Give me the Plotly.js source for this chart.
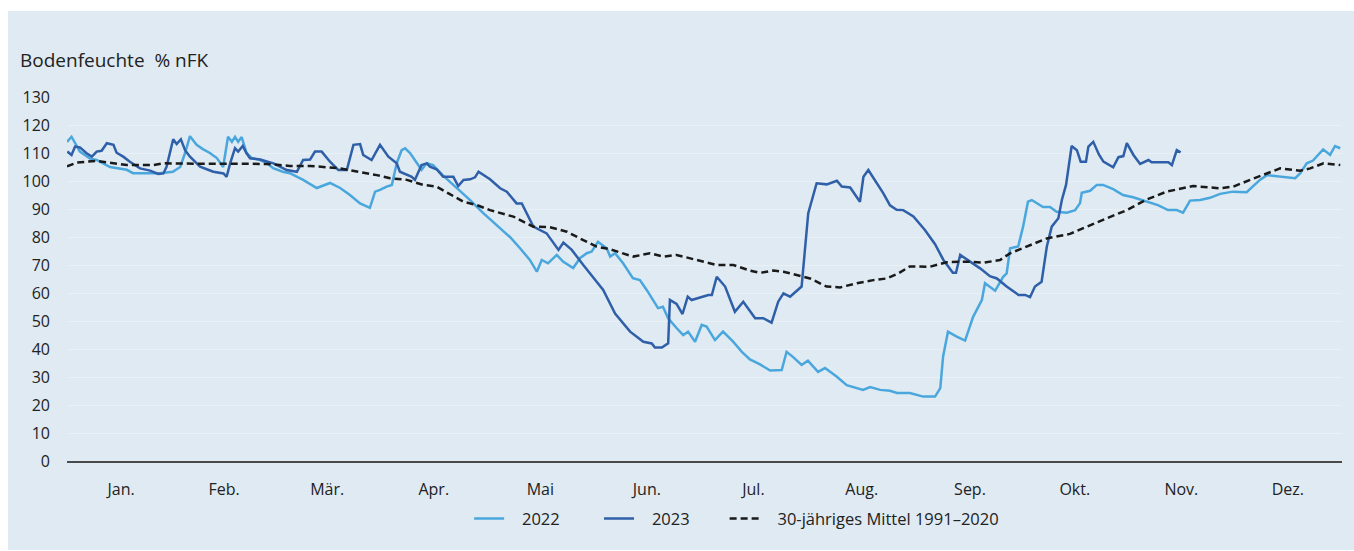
<!DOCTYPE html>
<html>
<head>
<meta charset="utf-8">
<script src="https://cdn.plot.ly/plotly-3.0.1.min.js"></script>
<style>
  html, body { margin: 0; padding: 0; background: #ffffff; }
  #chart { position: absolute; left: 8px; top: 11px; width: 1346px; height: 539px; }
</style>
</head>
<body>
<div id="chart"></div>
<script>
// Month tick labels and their centre day-of-year
const monthLabels = ['Jan.','Feb.','Mär.','Apr.','Mai','Jun.','Jul.','Aug.','Sep.','Okt.','Nov.','Dez.'];
const monthCenters = [15.5,45,74.5,105,135.5,166,196.5,227.5,258.5,288.5,319,349.5];

// 2022 (day of year, % nFK)
const days2022 = [0,1.3,3.7,6.6,8.5,10.3,12.3,17.1,18.9,26.6,30.3,32.4,33.8,35.2,37.1,38.9,40.9,42.9,44.7,46.1,47.2,48.1,49.0,50.0,51.4,52.9,55.3,57.2,59.0,61.8,63.8,67.6,71.5,75.3,78.2,81.0,83.9,86.7,88.2,89.6,91.5,93.0,94.4,95.8,96.8,98.2,100.1,101.5,103.0,104.8,107.6,111.6,115.4,119.1,123.0,126.8,129.7,132.5,134.5,135.9,137.7,140.2,142.0,144.9,146.9,148.8,150.2,152.0,154.5,155.5,156.9,159.2,162.0,164.0,166.0,167.8,169.2,170.6,172.1,174.5,176.4,177.8,179.8,181.7,183.1,185.5,187.8,190.7,193.2,195.5,198.4,201.3,204.6,206.0,207.8,210.3,212.1,215.0,217.0,220.4,223.2,227.9,229.9,232.8,235.6,237.6,241.3,245.1,248.5,250.0,250.8,252.2,254.7,257.1,259.4,261.9,262.8,265.7,268.0,269.0,270.0,272.3,273.7,275.1,276.2,279.4,281.4,283.3,286.2,288.6,290.0,290.5,292.9,294.8,296.6,299.5,302.3,305.2,309.1,312.3,315.2,317.7,319.5,321.5,324.4,327.2,330.1,333.8,337.7,339.5,341.5,343.5,346.3,349.2,351.6,353.0,354.9,356.7,359.6,361.6,363.0,364.5];
const values2022 = [114,115.8,110.5,108,107.5,106.4,105,104,102.8,102.8,103.3,105,110,116,112.9,111.4,110,108.2,105,115.8,114,115.8,114,115.7,110,108.2,107.5,106.4,104.6,103.3,102.8,100.4,97.5,99.3,97.5,95,92,90.4,96.2,96.8,98,98.6,106.4,111,111.7,110,106.4,104,106.4,105.7,102,97.5,93.2,88.6,84.3,80,76,71.8,67.6,71.8,70.6,73.6,71.2,68.9,72.5,74.2,74.8,78.3,76,73,74.2,70.6,65.3,64.6,61,57.5,54.6,55.1,51,47.5,45,46.2,42.6,48.6,48,43.2,46.2,42.6,39,36.3,34.5,32.3,32.5,39,37.2,34.3,35.8,31.8,33.2,30.1,27.1,25.4,26.4,25.4,25.1,24.3,24.3,23,23,26,37.3,46.2,44.4,43,51.5,57.5,63.5,60.8,65.8,67,76,76.6,83.7,92.6,93.2,90.7,90.7,89,88.7,89.6,92.1,95.8,96.5,98.6,98.6,97.1,95,94.2,92.6,91.4,89.6,89.6,88.7,93,93.2,94,95.4,96.2,96,98,100.4,102.1,101.8,101.5,101,102.7,106.3,107.3,111.3,109.3,112.5,111.7];

// 2023 (day of year, % nFK)
const days2023 = [0.1,1.3,2.3,3.7,5.6,7.1,8.5,9.9,11.4,13.3,14.2,16.1,18.0,20.9,23.8,26.1,27.6,28.5,30.4,31.4,32.6,33.8,35.2,38.1,40.0,41.9,44.8,45.7,46.7,48.1,49.0,50.3,51.4,52.4,55.3,59.1,62.9,65.8,67.6,69.6,71.0,72.9,75.3,77.7,80.1,82.0,83.9,84.8,87.2,89.6,92.0,94.4,95.3,98.7,99.6,101.5,103.0,103.9,105.8,107.7,110.6,112.0,113.5,115.4,116.8,117.8,121.1,124.0,125.9,128.7,130.2,133.5,137.3,140.7,142.1,144.5,147.8,153.5,156.9,161.2,165.0,167.4,168.3,170.3,172.1,172.6,174.5,176.2,177.7,178.8,183.6,184.6,186.0,188.4,191.2,193.6,197.0,199.3,201.7,203.6,205.1,207.0,210.3,211.3,212.2,214.6,217.5,220.4,221.8,224.2,227.0,228.0,229.4,233.7,235.6,237.5,239.4,242.3,245.6,248.5,250.9,253.6,254.5,255.7,258.5,261.4,264.2,266.2,269.0,272.4,274.3,275.7,277.1,279.0,280.5,281.9,283.8,284.8,286.0,287.6,289.1,290.2,291.7,292.4,293.8,295.4,296.7,299.5,301.0,302.4,303.4,305.3,307.2,309.6,310.5,315.3,316.3,317.7,318.8];
const values2023 = [110.5,109.3,112.3,112,109.9,108.7,110.5,110.8,113.5,112.9,110.1,108.7,106.9,104.5,103.7,102.5,102.7,105.1,114.9,113.2,114.9,111,108.7,105.1,104.2,103.3,102.7,101.5,106.3,111.7,110.5,112.5,109.9,108.1,107.7,106.3,103.9,103.3,107.5,107.7,110.5,110.5,106.9,103.9,103.9,112.9,113.2,109.3,107.5,112.9,108.7,106.3,103.3,101.5,100.4,105.7,106.3,105.1,104.2,101.5,101.5,98.2,100.4,100.6,101.3,103.3,100.6,97.4,96.2,92,92,83.7,81.3,75.4,78,75.4,70,61.1,52.7,46.2,42.6,42,40.5,40.5,42,57.5,56.1,52.5,58.7,57.5,59.3,59.3,65.8,62.3,53.3,56.9,51,51,49.4,56.9,59.9,58.7,62.3,75.4,88.5,99.2,98.8,100.1,98,97.7,92.6,101.5,103.9,95.6,91.3,89.7,89.6,87.3,82.5,77.4,71.8,67.2,67.2,73.6,71.2,68.8,66,65.2,62.3,59.3,59.3,58.5,62.3,64,76.6,83.7,86.7,93.2,98.6,112.5,111,106.9,106.9,112.3,114,109.5,106.9,104.9,108.5,108.9,113.5,109.3,106.1,107.5,106.7,106.7,105.7,111,110.2];

// 30-jähriges Mittel 1991–2020 (day of year, % nFK)
const daysMean = [0,2.8,8.5,12.3,17.1,24.7,27.6,36.2,45.7,51.4,57.2,63.8,69.6,78.2,83.9,88.7,92.5,97.3,102.0,105.8,109.6,113.5,117.3,121.1,125.9,127.8,130.6,133.5,138.3,143.1,147.8,151.6,155.5,162.1,166.9,170.7,174.5,178.4,186.0,190.8,195.5,198.4,202.2,205.1,209.8,212.7,217.5,221.3,226.1,230.8,234.7,238.0,241.3,247.1,251.8,257.6,262.3,267.1,270.0,274.7,280.5,287.1,291.9,297.7,303.4,309.1,314.8,322.4,330.1,333.9,338.7,343.5,347.3,353.0,355.9,359.7,364.5];
const valuesMean = [105.2,106.6,107.2,106.5,105.7,105.7,106.3,106.2,106.1,106.3,106.1,105.4,105.4,104.5,103.3,102.1,101,100.4,98.6,98,95.3,92.6,91.4,89.6,87.9,87.3,85.5,83.7,83.5,81.9,78.9,76.6,75.6,73,74.2,73,73.6,72.4,70,70,68,67.2,68,67.6,66.1,65.2,62.3,62,63.5,64.6,65.2,67,69.5,69.4,71,71.2,70.8,71.8,74.2,76.6,79.5,81.1,83.7,86.7,89.6,93.4,96.2,98.2,97.4,98,100.4,102.7,104.5,103.7,104.5,106.3,105.7];

const yTicks = [0,10,20,30,40,50,60,70,80,90,100,110,120,130];

const FONT = '"Segoe UI", "Open Sans", "Noto Sans", sans-serif';
const BG = '#dfeaf2';
const NB = '\u00a0';
const lead = NB.repeat(3);

const traces = [
  { x: days2022, y: values2022, name: lead + '2022' + NB.repeat(8), type: 'scatter', mode: 'lines',
    line: { color: '#4aa7dd', width: 2.5 } },
  { x: days2023, y: values2023, name: lead + '2023' + NB.repeat(7), type: 'scatter', mode: 'lines',
    line: { color: '#2f5fa8', width: 2.5 } },
  { x: daysMean, y: valuesMean, name: lead + '30-jähriges Mittel 1991–2020', type: 'scatter', mode: 'lines',
    line: { color: '#1a1a1a', width: 2.5, dash: '7px,4px' } }
];

const layout = {
  width: 1346, height: 539,
  margin: { l: 59, r: 12, t: 86, b: 89 },
  paper_bgcolor: BG, plot_bgcolor: BG,
  font: { family: FONT, size: 16, color: '#222' },
  showlegend: true,
  legend: { orientation: 'h', x: 0.3154, xanchor: 'left', y: -0.159, yanchor: 'middle',
            bgcolor: 'rgba(0,0,0,0)', font: { size: 16.5, color: '#222' }, itemwidth: 30, tracegroupgap: 0 },
  xaxis: {
    range: [0, 365], tickmode: 'array', tickvals: monthCenters, ticktext: monthLabels,
    showgrid: false, zeroline: false, ticks: '', showline: true, linecolor: '#4a4a4a', linewidth: 2,
    ticklabelstandoff: 13, tickfont: { size: 16, color: '#222' }, fixedrange: true
  },
  yaxis: {
    range: [0, 130], tickmode: 'array', tickvals: yTicks, ticktext: yTicks.map(String),
    showgrid: true, gridcolor: '#e9f1f6', gridwidth: 1, zeroline: false, ticks: '', showline: false,
    tickfont: { size: 16, color: '#222' }, ticklabelstandoff: 16, fixedrange: true
  },
  annotations: [
    { text: 'Bodenfeuchte  % nFK', xref: 'paper', yref: 'paper', x: -49/1275, y: 1 + 37/364,
      xanchor: 'left', yanchor: 'middle', showarrow: false, font: { size: 19, color: '#222' } }
  ]
};

Plotly.newPlot('chart', traces, layout, { displayModeBar: false, staticPlot: true });
</script>
</body>
</html>
